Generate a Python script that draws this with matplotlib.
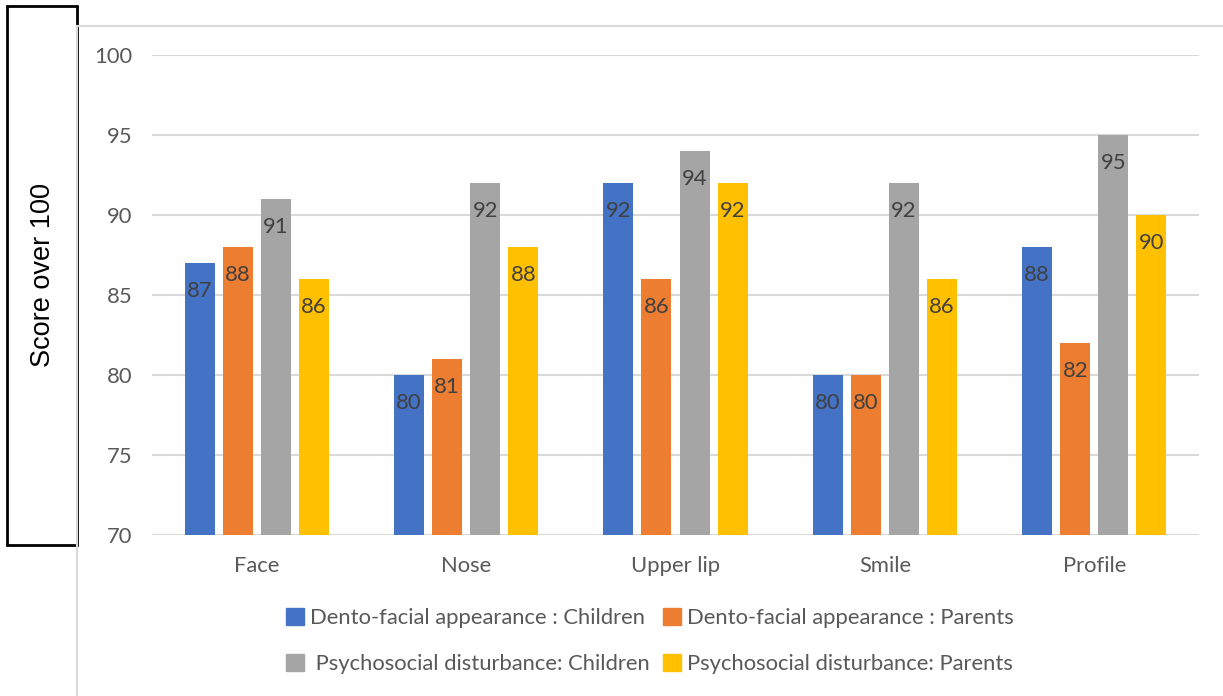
import matplotlib
matplotlib.use("Agg")
import matplotlib.pyplot as plt
import numpy as np
from matplotlib.patches import Rectangle
from matplotlib.lines import Line2D

categories = ["Face", "Nose", "Upper lip", "Smile", "Profile"]
series_names = ["Dento-facial appearance : Children",
                "Dento-facial appearance : Parents",
                " Psychosocial disturbance: Children",
                "Psychosocial disturbance: Parents"]
dento_children = [87, 80, 92, 80, 88]
dento_parents = [88, 81, 86, 80, 82]
psycho_children = [91, 92, 94, 92, 95]
psycho_parents = [86, 88, 92, 86, 90]
colors = ["#4472C4", "#ED7D31", "#A5A5A5", "#FFC000"]
yticks = [70, 75, 80, 85, 90, 95, 100]

plt.rcParams['font.family'] = ['Lato', 'DejaVu Sans']
W, H = 1223, 696
fig = plt.figure(figsize=(W/100, H/100), dpi=100)

FS = 15.8
# plot area: x 152..1199, y 55..535 (pixels from top)
ax = fig.add_axes([152/W, 1-535/H, (1199-152)/W, (535-55)/H])
x = np.arange(len(categories))
bw = 0.143
step = 0.182
all_series = [dento_children, dento_parents, psycho_children, psycho_parents]
for i, (vals, c) in enumerate(zip(all_series, colors)):
    pos = x + (i - 1.5) * step
    bars = ax.bar(pos, vals, width=bw, color=c, zorder=3)
    for b, v in zip(bars, vals):
        ax.text(b.get_x() + b.get_width()/2, v - 1.75, f"{v}", ha='center', va='center',
                fontsize=FS, color='#404040', zorder=4)

ax.set_xlim(-0.5, len(categories) - 0.5)
ax.set_ylim(70, 100)
ax.set_yticks(yticks)
ax.set_xticks(x)
ax.set_xticklabels(categories)
ax.tick_params(axis='both', length=0, labelsize=FS, labelcolor='#595959')
ax.tick_params(axis='y', pad=14)
ax.tick_params(axis='x', pad=15)
for s in ax.spines.values():
    s.set_visible(False)
ax.grid(axis='y', color='#D9D9D9', linewidth=1.5, zorder=0)
ax.set_axisbelow(True)

# outer frame lines
fig.add_artist(Line2D([77/W, 1], [1-26/H, 1-26/H], color='#D9D9D9', lw=1.5))
fig.add_artist(Line2D([77/W, 77/W], [0, 1-26/H], color='#D9D9D9', lw=1.5))

# y label box
fig.add_artist(Rectangle((7/W, 1-545/H), (77-7)/W, (545-6)/H, fill=True,
                         facecolor='white', edgecolor='black', lw=2))
fig.text(43/W, 1-275/H, "Score over 100", rotation=90, ha='center', va='center',
         fontsize=19.5, family=['Liberation Sans'], color='black')

handles = [Rectangle((0, 0), 1, 1, color=c) for c in colors]
order = [0, 2, 1, 3]
leg = fig.legend([handles[i] for i in order], [series_names[i] for i in order],
                 loc='center', ncol=2,
                 bbox_to_anchor=(650/W, 1-641/H), frameon=False,
                 fontsize=FS, labelcolor='#595959', handlelength=0.8,
                 handleheight=0.8, handletextpad=0.3, columnspacing=0.6,
                 labelspacing=1.2)

fig.savefig("out.png", dpi=100)
